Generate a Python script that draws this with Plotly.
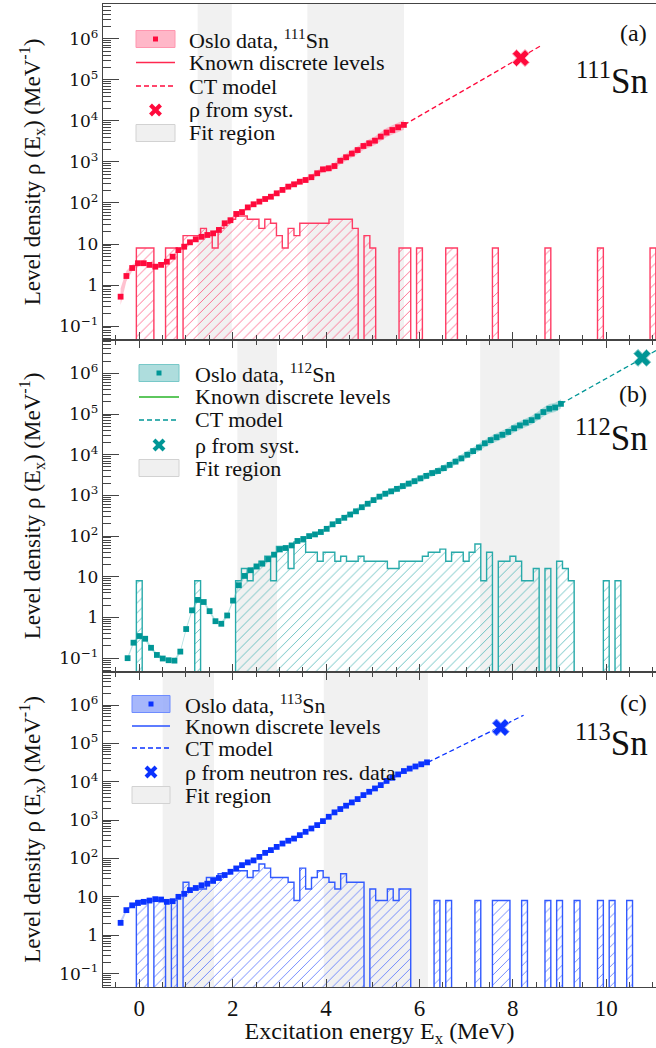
import numpy as np
import plotly.graph_objects as go

# ---------------- data ----------------
BIN_W = 0.125  # MeV, binning of discrete-level histograms

# Oslo data points: energy grid (start, step) and rho values (MeV^-1)
a_E0, a_dE = -0.40, 0.1238
a_rho = [0.52, 1.66, 2.6, 3.4, 3.4, 3.1, 2.8, 3.1, 3.7, 4.9, 7.1, 8.6, 11, 13, 15, 16.6, 18.2, 22, 32, 38,
         54, 60, 78, 93, 108, 125, 142, 172, 208, 250, 285, 330, 363, 425, 530, 660, 700, 795, 1070, 1300,
         1600, 1950, 2450, 2850, 3300, 4150, 5200, 6000, 7000, 8000]
a_err = [0.60, 0.35, 0.20, 0.12, 0.10, 0.10, 0.10, 0.10, 0.10, 0.10, 0.10, 0.10, 0.10, 0.10, 0.10, 0.10,
         0.10, 0.10, 0.10, 0.10, 0.10, 0.10, 0.11, 0.11, 0.12, 0.12, 0.12, 0.13, 0.13, 0.14, 0.14, 0.15,
         0.15, 0.16, 0.17, 0.18, 0.19, 0.20, 0.21, 0.22, 0.23, 0.24, 0.25, 0.26, 0.27, 0.28, 0.29, 0.30,
         0.31, 0.32]

b_E0, b_dE = -0.25, 0.1254
b_rho = [0.10, 0.24, 0.35, 0.30, 0.18, 0.12, 0.098, 0.089, 0.087, 0.145, 0.52, 1.5, 2.7, 2.4, 1.43, 0.81,
         0.70, 1.12, 2.6, 6.2, 10.5, 14.5, 18, 21, 27, 35, 47, 51, 59, 76, 85, 100, 110, 126, 151, 195, 234,
         282, 339, 407, 513, 624, 767, 933, 1100, 1260, 1450, 1700, 1950, 2240, 2630, 3020, 3550, 3980,
         4680, 5620, 6760, 8130, 10000, 12300, 15100, 19100, 22900, 26900, 30900, 36300, 44700, 52500,
         61700, 70800, 87100, 112000, 135000, 145000, 178000]
b_err = [0.10, 0.10, 0.10, 0.10, 0.10, 0.10, 0.10, 0.10, 0.10, 0.10, 0.10, 0.10, 0.10, 0.10, 0.10, 0.10,
         0.10, 0.10, 0.10, 0.10, 0.10, 0.10, 0.10, 0.10, 0.10, 0.10, 0.10, 0.10, 0.10, 0.10, 0.11, 0.11,
         0.11, 0.11, 0.12, 0.12, 0.12, 0.13, 0.13, 0.13, 0.14, 0.14, 0.15, 0.15, 0.16, 0.16, 0.17, 0.17,
         0.18, 0.18, 0.19, 0.19, 0.20, 0.20, 0.21, 0.21, 0.22, 0.22, 0.23, 0.23, 0.24, 0.24, 0.25, 0.25,
         0.26, 0.26, 0.27, 0.27, 0.28, 0.28, 0.29, 0.29, 0.30, 0.30, 0.30]

c_E0, c_dE = -0.40, 0.1238
c_rho = [2.1, 4.5, 6.0, 6.9, 7.4, 8.0, 8.7, 8.5, 7.4, 7.7, 10, 12, 15, 17, 20, 22, 26, 31, 37, 45, 55, 67,
         79, 89, 110, 140, 165, 200, 245, 290, 330, 405, 495, 605, 740, 940, 1220, 1590, 1940, 2370, 2890,
         3530, 4480, 5470, 6680, 8160, 10500, 12700, 15500, 19000, 22000, 25000, 28500, 32000]
c_err = [0.20, 0.10, 0.08, 0.06, 0.06, 0.06, 0.06, 0.06, 0.06, 0.06, 0.06, 0.06, 0.06, 0.06, 0.06, 0.06,
         0.06, 0.06, 0.06, 0.06, 0.06, 0.06, 0.06, 0.06, 0.06, 0.07, 0.07, 0.07, 0.07, 0.07, 0.08, 0.08,
         0.08, 0.08, 0.08, 0.09, 0.09, 0.09, 0.09, 0.10, 0.10, 0.10, 0.10, 0.11, 0.11, 0.11, 0.12, 0.12,
         0.12, 0.13, 0.13, 0.13, 0.14, 0.14]

# known discrete levels: bin centres (MeV) and number of levels in the bin
a_lev_E = [0.0, 0.125, 0.25, 0.625, 0.75, 1.0, 1.125, 1.25, 1.375, 1.5, 1.625, 1.75, 1.875, 2.0, 2.125,
           2.25, 2.375, 2.5, 2.625, 2.75, 2.875, 3.0, 3.125, 3.25, 3.375, 3.5, 3.625, 3.75, 3.875, 4.0,
           4.125, 4.25, 4.375, 4.5, 4.625, 4.875, 5.0, 5.625, 5.75, 6.0, 6.625, 6.75, 7.625, 8.75, 9.875,
           11.0]
a_lev_n = [1, 1, 1, 1, 1, 2, 2, 2, 3, 2, 1, 3, 4, 5, 6, 6, 5, 5, 3, 5, 4, 2, 1, 3, 2, 4, 4, 4, 4, 4, 5, 5,
           5, 5, 3, 2, 1, 1, 1, 1, 1, 1, 1, 1, 1, 1]

b_lev_E = [0.0, 1.25, 2.125, 2.25, 2.375, 2.5, 2.625, 2.75, 2.875, 3.0, 3.125, 3.25, 3.375, 3.5, 3.625,
           3.75, 3.875, 4.0, 4.125, 4.25, 4.375, 4.5, 4.625, 4.75, 4.875, 5.0, 5.125, 5.25, 5.375, 5.5,
           5.625, 5.75, 5.875, 6.0, 6.125, 6.25, 6.375, 6.5, 6.625, 6.75, 6.875, 7.0, 7.125, 7.25, 7.375,
           7.5, 7.75, 7.875, 8.0, 8.125, 8.25, 8.375, 8.5, 8.75, 9.0, 9.125, 9.25, 10.0, 10.25]
b_lev_n = [1, 1, 1, 2, 1, 2, 3, 4, 1, 7, 6, 2, 9, 9, 5, 5, 3, 5, 5, 3, 4, 3, 3, 4, 3, 3, 3, 3, 2, 2, 3, 3,
           3, 3, 4, 5, 5, 6, 3, 5, 5, 3, 5, 8, 1, 5, 3, 3, 4, 3, 1, 1, 2, 2, 3, 2, 1, 1, 1]

c_lev_E = [0.0, 0.125, 0.375, 0.5, 0.75, 1.0, 1.125, 1.25, 1.375, 1.5, 1.625, 1.75, 1.875, 2.0, 2.125, 2.25,
           2.375, 2.5, 2.625, 2.75, 2.875, 3.0, 3.125, 3.25, 3.375, 3.5, 3.625, 3.75, 3.875, 4.0, 4.125,
           4.25, 4.375, 4.5, 4.625, 4.75, 5.0, 5.125, 5.25, 5.375, 5.5, 5.625, 5.75, 6.375, 6.625, 7.25,
           7.625, 7.75, 7.875, 8.25, 8.75, 9.0, 9.375, 9.875, 10.125, 10.5]
c_lev_n = [1, 1, 1, 1, 1, 3, 2, 2, 2, 4, 4, 5, 5, 6, 6, 6, 4, 6, 9, 7, 4, 4, 4, 3, 1, 7, 2, 4, 6, 4, 3, 2,
           5, 3, 3, 3, 2, 1, 1, 2, 1, 2, 2, 1, 1, 1, 1, 1, 1, 1, 1, 1, 1, 1, 1, 1]

# CT model (two end points of the straight line in log space) and systematics point
a_ct_E, a_ct_rho = [5.67, 8.6], [8000, 6.8e5]
b_ct_E, b_ct_rho = [9.03, 11.5], [1.78e5, 6.9e6]
c_ct_E, c_ct_rho = [6.18, 8.23], [32000, 5.4e5]
a_sys_E, a_sys_rho, a_sys_err = 8.17, 3.4e5, 0.5e5
b_sys_E, b_sys_rho, b_sys_err = 10.77, 2.4e6, 0.3e6
c_sys_E, c_sys_rho, c_sys_err = 7.74, 2.6e5, 0.2e5

# fit regions (MeV)
a_fit = [(1.25, 1.98), (3.60, 5.67)]
b_fit = [(2.10, 2.95), (7.30, 9.00)]
c_fit = [(0.50, 1.60), (3.95, 6.18)]

# ---------------- styling ----------------
W, H = 656, 1048
ML = 103
XR = [-0.777, 11.065]
FONT = 'Liberation Serif'

panels = [
    dict(E0=a_E0, dE=a_dE, rho=a_rho, err=a_err, levE=a_lev_E, levN=a_lev_n, ctE=a_ct_E, ctR=a_ct_rho,
         sE=a_sys_E, sR=a_sys_rho, sErr=a_sys_err, fit=a_fit, yr=[-1.34, 6.85], dom=(340, 4),
         col='rgb(255,10,60)', band='rgba(255,120,150,0.45)', hist='rgb(255,60,100)',
         hatch='rgba(255,80,120,0.85)', legline='rgb(255,40,80)', boxfill='rgba(255,170,190,0.85)',
         boxline='rgb(255,150,175)', xline='rgb(255,170,190)',
         nuc='111', lab='(a)', sysl='ρ from syst.', lab_dy=29, nuc_dy=74,
         leg=dict(bx=(136, 175), tx=187, rows=[39, 62.5, 86, 110, 133])),
    dict(E0=b_E0, dE=b_dE, rho=b_rho, err=b_err, levE=b_lev_E, levN=b_lev_n, ctE=b_ct_E, ctR=b_ct_rho,
         sE=b_sys_E, sR=b_sys_rho, sErr=b_sys_err, fit=b_fit, yr=[-1.34, 6.82], dom=(672, 340),
         col='rgb(0,150,150)', band='rgba(90,190,190,0.45)', hist='rgb(40,170,170)',
         hatch='rgba(70,180,180,0.85)', legline='rgb(40,180,40)', boxfill='rgba(160,215,215,0.85)',
         boxline='rgb(120,200,200)', xline='rgb(130,200,200)',
         nuc='112', lab='(b)', sysl='ρ from syst.', lab_dy=54, nuc_dy=96,
         leg=dict(bx=(139, 179), tx=193, rows=[373, 397, 420, 445, 468])),
    dict(E0=c_E0, dE=c_dE, rho=c_rho, err=c_err, levE=c_lev_E, levN=c_lev_n, ctE=c_ct_E, ctR=c_ct_rho,
         sE=c_sys_E, sR=c_sys_rho, sErr=c_sys_err, fit=c_fit, yr=[-1.35, 6.86], dom=(987, 672),
         col='rgb(10,50,255)', band='rgba(110,140,255,0.45)', hist='rgb(50,90,255)',
         hatch='rgba(80,110,255,0.85)', legline='rgb(40,80,255)', boxfill='rgba(150,170,250,0.85)',
         boxline='rgb(110,140,255)', xline='rgb(140,160,255)',
         nuc='113', lab='(c)', sysl='ρ from neutron res. data', lab_dy=31, nuc_dy=69,
         leg=dict(bx=(132, 170), tx=183, rows=[704, 726, 748, 772, 795])),
]


def pxx(x):
    return (x - ML) / (W - ML)


def pxy(y):
    return (H - y) / H


def hist_polygon(lev_E, lev_n, floor):
    xs, ys = [], []
    prev_end = None
    for c, n in zip(lev_E, lev_n):
        d = n / BIN_W
        x0, x1 = c - BIN_W / 2, c + BIN_W / 2
        if prev_end is None or abs(x0 - prev_end) > 1e-9:
            if prev_end is not None:
                xs.append(prev_end); ys.append(floor)
            xs.append(x0); ys.append(floor)
        xs += [x0, x1]
        ys += [d, d]
        prev_end = x1
    xs.append(prev_end); ys.append(floor)
    return xs, ys


fig = go.Figure()
shapes, annos = [], []

for i, p in enumerate(panels):
    sfx = '' if i == 0 else str(i + 1)
    xa, ya = 'x' + sfx, 'y' + sfx
    # histogram of known discrete levels
    hx, hy = hist_polygon(p['levE'], p['levN'], 1e-4)
    fig.add_trace(go.Scatter(x=hx, y=hy, xaxis=xa, yaxis=ya, mode='lines', fill='toself',
                             fillcolor='rgba(0,0,0,0)',
                             fillpattern=dict(shape='/', fgcolor=p['hatch'], bgcolor='rgba(0,0,0,0)',
                                              size=7, solidity=0.13, fillmode='replace'),
                             line=dict(color=p['hist'], width=1.4), hoverinfo='skip'))
    # error band
    E = [p['E0'] + p['dE'] * k for k in range(len(p['rho']))]
    rho = np.array(p['rho'], float)
    err = np.array(p['err'], float)
    up = rho * (1 + err)
    lo = rho / (1 + err)
    fig.add_trace(go.Scatter(x=E + E[::-1], y=list(up) + list(lo[::-1]), xaxis=xa, yaxis=ya,
                             mode='lines', fill='toself', fillcolor=p['band'], line=dict(width=0),
                             hoverinfo='skip'))
    # CT model
    fig.add_trace(go.Scatter(x=p['ctE'], y=p['ctR'], xaxis=xa, yaxis=ya, mode='lines',
                             line=dict(color=p['col'], width=1.3, dash='5px,3px')))
    # data points
    fig.add_trace(go.Scatter(x=E, y=p['rho'], xaxis=xa, yaxis=ya, mode='markers',
                             marker=dict(symbol='square', size=5.8, color=p['col'], line=dict(width=0))))
    # systematics point
    fig.add_trace(go.Scatter(x=[p['sE']], y=[p['sR']], xaxis=xa, yaxis=ya, mode='markers',
                             error_y=dict(type='data', array=[p['sErr']], color=p['col'], thickness=1.5,
                                          width=3),
                             marker=dict(symbol='x', size=15, color=p['col'],
                                         line=dict(color=p['xline'], width=1))))
    # fit regions
    for (f0, f1) in p['fit']:
        shapes.append(dict(type='rect', xref=xa, yref=ya + ' domain', x0=f0, x1=f1, y0=0, y1=1,
                           fillcolor='#f1f1f1', line=dict(width=0), layer='below'))
    # legend (drawn by hand)
    lg = p['leg']
    bx0, bx1 = pxx(lg['bx'][0]), pxx(lg['bx'][1])
    bxc = (lg['bx'][0] + lg['bx'][1]) / 2
    r = lg['rows']
    shapes.append(dict(type='rect', xref='paper', yref='paper', x0=bx0, x1=bx1,
                       y0=pxy(r[0] + 8.5), y1=pxy(r[0] - 8.5), fillcolor=p['boxfill'],
                       line=dict(color=p['boxline'], width=1)))
    shapes.append(dict(type='rect', xref='paper', yref='paper', xsizemode='pixel', ysizemode='pixel',
                       xanchor=pxx(bxc), yanchor=pxy(r[0]), x0=-2.5, x1=2.5, y0=-2.5, y1=2.5,
                       fillcolor=p['col'], line=dict(width=0)))
    shapes.append(dict(type='line', xref='paper', yref='paper', x0=bx0, x1=bx1, y0=pxy(r[1]), y1=pxy(r[1]),
                       line=dict(color=p['legline'], width=1.4)))
    shapes.append(dict(type='line', xref='paper', yref='paper', x0=bx0, x1=bx1, y0=pxy(r[2]), y1=pxy(r[2]),
                       line=dict(color=p['col'], width=1.3, dash='5px,3px')))
    for sgn in (1, -1):
        shapes.append(dict(type='line', xref='paper', yref='paper', xsizemode='pixel', ysizemode='pixel',
                           xanchor=pxx(bxc), yanchor=pxy(r[3]), x0=-5, x1=5, y0=-5 * sgn, y1=5 * sgn,
                           line=dict(color=p['col'], width=4)))
    shapes.append(dict(type='rect', xref='paper', yref='paper', x0=bx0, x1=bx1,
                       y0=pxy(r[4] + 8.5), y1=pxy(r[4] - 8.5), fillcolor='#f0f0f0',
                       line=dict(color='#d2d2d2', width=1)))
    labels = ['Oslo data, <sup>%s</sup>Sn' % p['nuc'], 'Known discrete levels', 'CT model', p['sysl'],
              'Fit region']
    for t, yy in zip(labels, r):
        annos.append(dict(xref='paper', yref='paper', x=pxx(lg['tx']), y=pxy(yy), text=t, showarrow=False,
                          xanchor='left', yanchor='middle', font=dict(family=FONT, size=22, color='#111')))
    # panel label and nuclide
    top = p['dom'][1]
    annos.append(dict(xref='paper', yref='paper', x=pxx(649), y=pxy(top + p['lab_dy']), text=p['lab'],
                      showarrow=False, xanchor='right', yanchor='middle',
                      font=dict(family=FONT, size=24, color='#111')))
    annos.append(dict(xref='paper', yref='paper', x=pxx(650), y=pxy(top + p['nuc_dy']),
                      text='<sup>%s</sup>Sn' % p['nuc'], showarrow=False, xanchor='right', yanchor='middle',
                      font=dict(family=FONT, size=35, color='#111')))

# ---------------- axes ----------------
ytickvals = [0.1, 1, 10, 1e2, 1e3, 1e4, 1e5, 1e6]
yticktext = ['10<sup>−1</sup>', '1', '10', '10<sup>2</sup>', '10<sup>3</sup>', '10<sup>4</sup>',
             '10<sup>5</sup>', '10<sup>6</sup>']
yminor = [m * 10.0 ** d for d in range(-2, 8) for m in range(2, 10)]
axcol = '#444'

layout = dict(width=W, height=H, margin=dict(l=ML, r=0, t=0, b=0), paper_bgcolor='white',
              plot_bgcolor='white', showlegend=False, shapes=shapes, annotations=annos,
              font=dict(family=FONT, color='#111'))

for i, p in enumerate(panels):
    sfx = '' if i == 0 else str(i + 1)
    ybot, ytop = p['dom']
    xdict = dict(range=XR, domain=[0, 1], anchor='y' + sfx, showline=True, linecolor=axcol, linewidth=1.3,
                 ticks='inside', ticklen=8, tickwidth=1.2, tickcolor=axcol, tickvals=[0, 2, 4, 6, 8, 10],
                 minor=dict(ticks='inside', ticklen=4.5, tickwidth=1, tickcolor=axcol, dtick=0.5, tick0=0),
                 showgrid=False, zeroline=False, mirror=(True if i == 0 else 'ticks'),
                 showticklabels=(i == 2), tickfont=dict(family=FONT, size=23, color='#111'))
    if i > 0:
        xdict['matches'] = 'x'
    if i == 2:
        xdict['title'] = dict(text='Excitation energy E<sub>x</sub> (MeV)',
                              font=dict(family=FONT, size=24, color='#111'), standoff=4)
    ydict = dict(type='log', range=p['yr'], domain=[(H - ybot) / H, (H - ytop) / H], anchor='x' + sfx,
                 showline=True, linecolor=axcol, linewidth=1.3, ticks='inside', ticklen=16, tickwidth=1.2,
                 tickcolor=axcol, tickmode='array', tickvals=ytickvals, ticktext=yticktext,
                 minor=dict(ticks='inside', ticklen=8, tickwidth=1, tickcolor=axcol, tickmode='array',
                            tickvals=yminor),
                 showgrid=False, zeroline=False, mirror=False,
                 tickfont=dict(family='DejaVu Serif', size=17, color='#111'),
                 title=dict(text='Level density ρ (E<sub>x</sub>) (MeV<sup>-1</sup>)',
                            font=dict(family=FONT, size=23, color='#111'), standoff=12))
    layout['xaxis' + sfx] = xdict
    layout['yaxis' + sfx] = ydict

fig.update_layout(**layout)
fig.write_html('out.html')
